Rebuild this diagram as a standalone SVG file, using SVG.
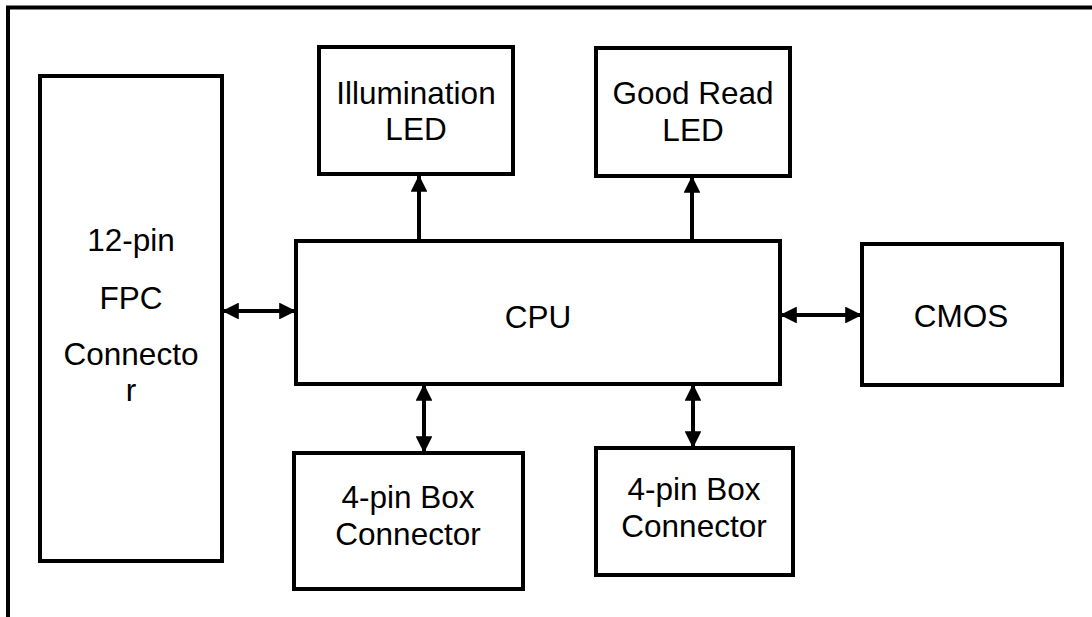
<svg xmlns="http://www.w3.org/2000/svg" width="1092" height="617" viewBox="0 0 1092 617">
<style>
.box{fill:#fff;stroke:#000;stroke-width:4}
.t{font-family:"Liberation Sans",Arial,sans-serif;font-size:31.5px;fill:#000;text-anchor:middle}
.c{stroke:#000;stroke-width:4;fill:none}
</style>
<defs>
<marker id="ah" viewBox="0 0 10 10" refX="10" refY="5" markerWidth="4.2" markerHeight="4.2" markerUnits="strokeWidth" orient="auto-start-reverse">
<path d="M0,0 L10,5 L0,10 Z" fill="#000"/>
</marker>
</defs>
<rect width="1092" height="617" fill="#fff"/>
<path d="M8,617 V7.5 H1092" fill="none" stroke="#000" stroke-width="4"/>
<g id="fpc"><rect class="box" x="40" y="76" width="182" height="485"/>
<text class="t" x="131" y="251">12-pin</text><text class="t" x="131" y="309">FPC</text><text class="t" x="131" y="365">Connecto</text><text class="t" x="131" y="401">r</text></g>
<g id="cpu"><rect class="box" x="296" y="241" width="484" height="143"/><text class="t" x="538" y="328">CPU</text></g>
<g id="illum"><rect class="box" x="319" y="47" width="194" height="127"/><text class="t" x="416" y="104">Illumination</text><text class="t" x="416" y="140">LED</text></g>
<g id="goodread"><rect class="box" x="596" y="48" width="194" height="128"/><text class="t" x="693" y="104">Good Read</text><text class="t" x="693" y="141">LED</text></g>
<g id="cmos"><rect class="box" x="862" y="244" width="200" height="141"/><text class="t" x="961" y="327">CMOS</text></g>
<g id="box1"><rect class="box" x="294" y="453" width="229" height="136"/><text class="t" x="408" y="508">4-pin Box</text><text class="t" x="408" y="545">Connector</text></g>
<g id="box2"><rect class="box" x="596" y="448" width="197" height="127"/><text class="t" x="694" y="500">4-pin Box</text><text class="t" x="694" y="537">Connector</text></g>
<g id="connectors">
<line class="c" x1="222" y1="311" x2="296" y2="311" marker-start="url(#ah)" marker-end="url(#ah)"/>
<line class="c" x1="780" y1="315" x2="862" y2="315" marker-start="url(#ah)" marker-end="url(#ah)"/>
<line class="c" x1="419" y1="241" x2="419" y2="175" marker-end="url(#ah)"/>
<line class="c" x1="692" y1="241" x2="692" y2="176" marker-end="url(#ah)"/>
<line class="c" x1="424" y1="384" x2="424" y2="453" marker-start="url(#ah)" marker-end="url(#ah)"/>
<line class="c" x1="693" y1="384" x2="693" y2="448" marker-start="url(#ah)" marker-end="url(#ah)"/>
</g>
</svg>
